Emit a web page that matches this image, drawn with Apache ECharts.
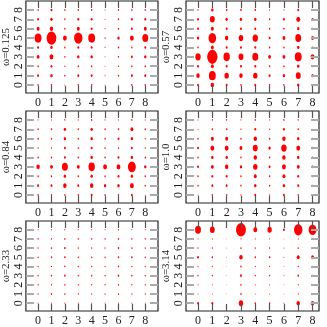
<!DOCTYPE html>
<html><head><meta charset="utf-8">
<script src="https://cdn.jsdelivr.net/npm/echarts@6/dist/echarts.min.js"></script>
<style>html,body{margin:0;padding:0;background:#fff}#c{width:327px;height:327px}</style>
</head><body><div id="c"></div>
<script>
// tick values shared by both axes
const ticks = [0,1,2,3,4,5,6,7,8];
const omegaNames = ['ω=0.125','ω=0.57','ω=0.84','ω=1.0','ω=2.33','ω=3.14'];
// magnitudes: rows listed from y=8 (top) down to y=0, columns x=0..8
const w0125 = [
 [1,1.5,1,1,1,0.5,1,1,1],
 [1.5,2,1,1.5,1.5,0.5,1,1.5,1.5],
 [2.5,3,1,2.5,1.5,0.5,1,1.5,2.5],
 [6.5,9.3,3.5,8,6.5,0.8,2,3.5,5.5],
 [1.5,2,1,1.5,1.5,0.5,1,1,1.5],
 [2.5,3.5,1,2,2,0.5,1,1.5,2],
 [1,1.5,0.8,1,1,0.5,0.8,1,1],
 [1.5,2,1,1.5,1.5,0.5,1,1.5,1.5],
 [1,1,0.5,1,1,0.5,0.5,1,1]
];
const w057 = [
 [0.8,2,1.2,1.2,1.2,0.6,0.6,1.5,0.8],
 [1.5,4.5,2,2,2,1,1.5,3.5,1.5],
 [1.5,2.5,1.5,1.5,1.5,1,1,2,1],
 [2,7.3,3,4.2,5,1.5,2.5,5.5,2.5],
 [1,2.5,1.5,1.5,1.5,1,1,2,1],
 [5,10,6,4.5,5.5,2.5,2.5,6.5,3.5],
 [1.5,2.5,1.5,1.5,1.5,1,1,2,1],
 [3,6.5,4,3,4,1.5,2,4.5,2],
 [1.5,3,1.5,1,1.5,1,1,2,1]
];
const w084 = [
 [0.6,0.6,0.8,0.6,1,0.6,0.6,1,0.5],
 [1,1,2,1,2,1,1,2.5,1],
 [1,1,2,1,2,1,1.5,2,0.8],
 [0.8,0.8,1.5,1,1.5,1,1,1.5,0.8],
 [1,1,1.5,1,2,1,1.5,2,1],
 [3,2.5,5.5,2.5,6,3.5,3.5,7.5,2],
 [1,1,2,1,2,1,1.5,2,1],
 [1.5,1.5,3,1.5,3,2,2,3.5,1],
 [1,1,1,1,1.5,1,1,1.5,0.5]
];
const w100 = [
 [0.5,0.8,0.8,0.6,1,0.6,1,0.8,0.5],
 [0.5,1,1,0.8,1.5,0.8,1.5,1,0.5],
 [1,2.5,2.5,1,3,1,3,2,1],
 [1.5,3.5,3.5,2.5,4.5,2,5,3.5,1.5],
 [1,2,2,1,3,1,3,2,1],
 [1.5,2.5,3,2,4,1.5,3.5,2.5,1.5],
 [1,1.5,1.5,1,2.5,1,2.5,1.5,1],
 [1,1.5,1.5,1,2,1,2,1.5,1],
 [0.5,1,1,0.8,1.5,0.8,1.5,1,0.5]
];
const w233 = [
 [0.5,0.5,0.6,0.5,0.5,0.5,0.7,0.5,0.5],
 [0.8,0.8,1,0.8,0.8,0.8,1,0.8,0.8],
 [0.8,1,1.2,0.8,0.8,0.8,1.2,1,0.8],
 [0.9,1,1.2,0.9,0.9,0.9,1.2,1.2,0.9],
 [0.8,0.8,0.9,0.8,0.8,0.8,0.9,0.8,0.8],
 [0.8,0.9,1.2,0.8,0.9,0.8,1.2,1,0.8],
 [0.8,0.8,0.9,0.8,0.8,0.8,0.9,0.8,0.8],
 [0.8,1,0.9,0.8,0.8,0.8,0.9,0.8,0.8],
 [0.5,0.5,0.6,0.5,0.5,0.5,0.6,0.5,0.5]
];
const w314 = [
 [5.5,4.5,0,9.5,3.5,4,1.5,8,7.5],
 [0.5,0.5,0.2,0.6,0.5,0.5,0.3,0.6,0.6],
 [0.8,0.8,0.3,1,0.8,0.8,0.5,1,1],
 [1.5,1.2,0.3,3,1,1.2,0.5,2.5,2.5],
 [0.6,0.6,0.2,1,0.6,0.6,0.3,0.8,0.8],
 [0.8,0.8,0.3,1.5,0.8,0.8,0.4,1.2,1],
 [0.5,0.5,0.2,1,0.5,0.5,0.3,0.7,0.7],
 [0.5,0.5,0.2,1,0.5,0.5,0.3,0.7,0.7],
 [1.5,1.5,0,4,1,1,0.5,3,3]
];
const panels = [w0125, w057, w084, w100, w233, w314];

const colLeft = [17, 186], colWidth = [141, 133];
const rowTop = [1, 111, 221], rowHeight = [92, 92, 91];
const xMin = [-0.91, -0.84], xMax = [8.95, 8.45];
const yMin = -0.85, yMax = 8.95;
const FONT = 'Liberation Serif';

const grid = [], xAxis = [], yAxis = [], series = [];
panels.forEach((mat, i) => {
  const r = Math.floor(i / 2), c = i % 2;
  grid.push({left: colLeft[c], top: rowTop[r], width: colWidth[c], height: rowHeight[r],
    show: true, borderColor: '#222', borderWidth: 1.2, backgroundColor: 'transparent'});
  const xTick = () => ({show: true, inside: true, length: 7, customValues: ticks, lineStyle: {color: '#555', width: 1.2}});
  const yTick = () => ({show: true, inside: true, length: 8, customValues: ticks, lineStyle: {color: '#aaa', width: 2}});
  xAxis.push({gridIndex: i, type: 'value', min: xMin[c], max: xMax[c], z: 5, position: 'bottom',
    axisLine: {show: false, onZero: false}, splitLine: {show: false}, axisTick: xTick(),
    axisLabel: {show: true, customValues: ticks, margin: 4, fontFamily: FONT, fontSize: 12, color: '#222'}});
  xAxis.push({gridIndex: i, type: 'value', min: xMin[c], max: xMax[c], z: 5, position: 'top',
    axisLine: {show: false, onZero: false}, splitLine: {show: false}, axisTick: xTick(),
    axisLabel: {show: false}});
  yAxis.push({gridIndex: i, type: 'value', min: yMin, max: yMax, z: 5, position: 'left',
    axisLine: {show: false, onZero: false}, splitLine: {show: false}, axisTick: yTick(),
    name: omegaNames[i], nameLocation: 'middle', nameGap: 8, nameRotate: 90,
    nameTextStyle: {fontFamily: FONT, fontSize: 11, color: '#222'},
    axisLabel: {show: true, customValues: ticks, rotate: 90, margin: 1, fontFamily: FONT, fontSize: 12, color: '#222'}});
  yAxis.push({gridIndex: i, type: 'value', min: yMin, max: yMax, z: 5, position: 'right',
    axisLine: {show: false, onZero: false}, splitLine: {show: false}, axisTick: yTick(),
    axisLabel: {show: false}});
  const data = [];
  mat.forEach((row, k) => {
    const y = 8 - k;
    row.forEach((m, x) => { if (m > 0) data.push([x, y, m]); });
  });
  series.push({type: 'scatter', xAxisIndex: 2 * i, yAxisIndex: 2 * i, data: data, z: 2,
    symbol: 'circle', silent: true,
    symbolSize: v => { const s = v[2] + 0.4; return [s, s * 1.35]; },
    itemStyle: {color: '#ff0000', opacity: 1}});
});

const chart = echarts.init(document.getElementById('c'), null, {renderer: 'canvas'});
chart.setOption({animation: false, grid, xAxis, yAxis, series});
</script>
</body></html>
